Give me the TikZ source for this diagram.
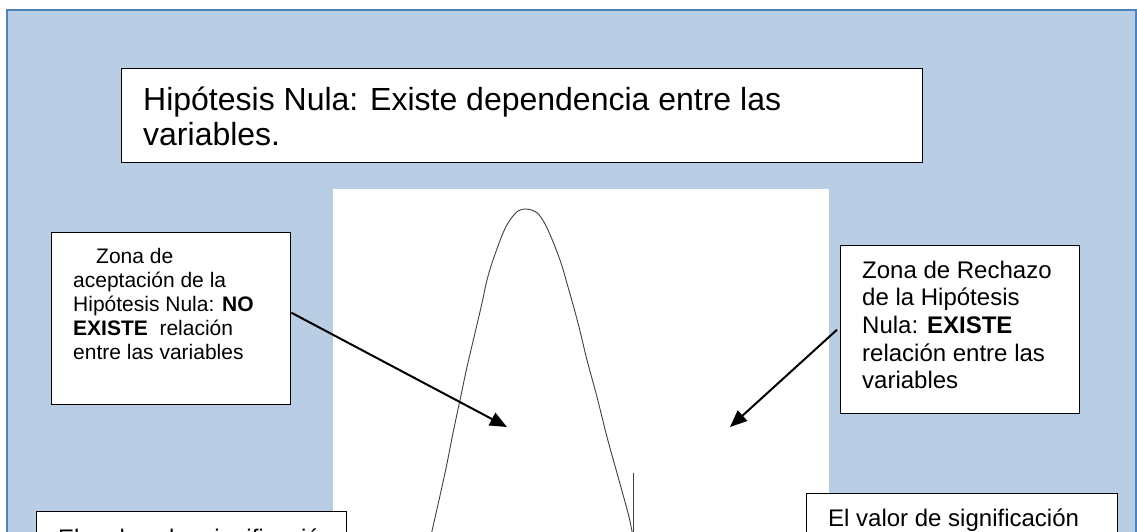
\documentclass[tikz,border=0pt]{standalone}
\usepackage{fontspec}
\setmainfont{Liberation Sans}
\usetikzlibrary{arrows.meta}
\definecolor{framefill}{HTML}{B9CDE5}
\definecolor{frameline}{HTML}{4F81BD}
\begin{document}
\begin{tikzpicture}[x=1pt,y=-1pt,
  boxstyle/.style={draw=black, fill=white, line width=1.4pt, inner sep=0pt, anchor=north west},
  txt/.style={anchor=base west, inner sep=0pt},
  arrowline/.style={line width=2pt, -{Triangle[length=17pt,width=14pt]}},
  curveline/.style={line width=0.9pt, black!75}]
\useasboundingbox (0,0) rectangle (1137,531);
\clip (0,0) rectangle (1137,531);
\fill[white] (0,0) rectangle (1137,531);
% frame
\draw[fill=framefill, draw=frameline, line width=1.5pt] (7,10) rectangle (1136,580);
% white plot area
\fill[white] (333,189) rectangle (829,580);
% bell curve
\draw[curveline] plot[smooth, tension=0.6] coordinates {(429,545) (432,531) (445,473) (453,433) (460,400) (467,367) (475,333) (482,303) (487,280) (493,260) (503,233) (510,220) (518,211) (526,209) (534,211) (540,216) (548,230) (560,260) (568,287) (578,323) (587,360) (597,397) (607,437) (617,473) (628,513) (632,531) (635,545)};
\draw[curveline] (633,473) -- (633,545);
% title
\node[boxstyle, minimum width=801pt, minimum height=94pt] (title) at (121,68) {};
\node[txt, font=\fontsize{32}{35}\selectfont] (titletext) at (143,110)
  {\begin{tabular}[t]{@{}l@{}}Hipótesis Nula: Existe dependencia entre las\\variables.\end{tabular}};
% left box
\node[boxstyle, minimum width=239pt, minimum height=172pt] (lbox) at (51,232) {};
\node[txt, font=\fontsize{21}{24.2}\selectfont] (ltext) at (73,263)
  {\begin{tabular}[t]{@{}l@{}}\hspace*{23pt}Zona de\\aceptación de la\\Hipótesis Nula: \textbf{NO}\\\textbf{EXISTE}\ \ relación\\entre las variables\end{tabular}};
% right box
\node[boxstyle, minimum width=239pt, minimum height=168pt] (rbox) at (840,245) {};
\node[txt, font=\fontsize{24}{27.7}\selectfont] (rtext) at (862,278)
  {\begin{tabular}[t]{@{}l@{}}Zona de Rechazo\\de la Hipótesis\\Nula: \textbf{EXISTE}\\relación entre las\\variables\end{tabular}};
% bottom boxes
\node[boxstyle, minimum width=310pt, minimum height=80pt] (blbox) at (36,511) {};
\node[txt, font=\fontsize{24}{27.7}\selectfont] (bltext) at (58,546)
  {\makebox[275pt][s]{El valor de significación}};
\node[boxstyle, minimum width=311pt, minimum height=90pt] (brbox) at (806,493) {};
\node[txt, font=\fontsize{24}{27.7}\selectfont] (brtext) at (828,526)
  {El valor de significación};
% arrows
\coordinate (tipL) at (507,427);
\coordinate (tipR) at (730,427);
\draw[arrowline] ([yshift=6pt]lbox.east) -- (tipL);
\draw[arrowline] ([xshift=-3pt]rbox.west) -- (tipR);
\end{tikzpicture}
\end{document}
